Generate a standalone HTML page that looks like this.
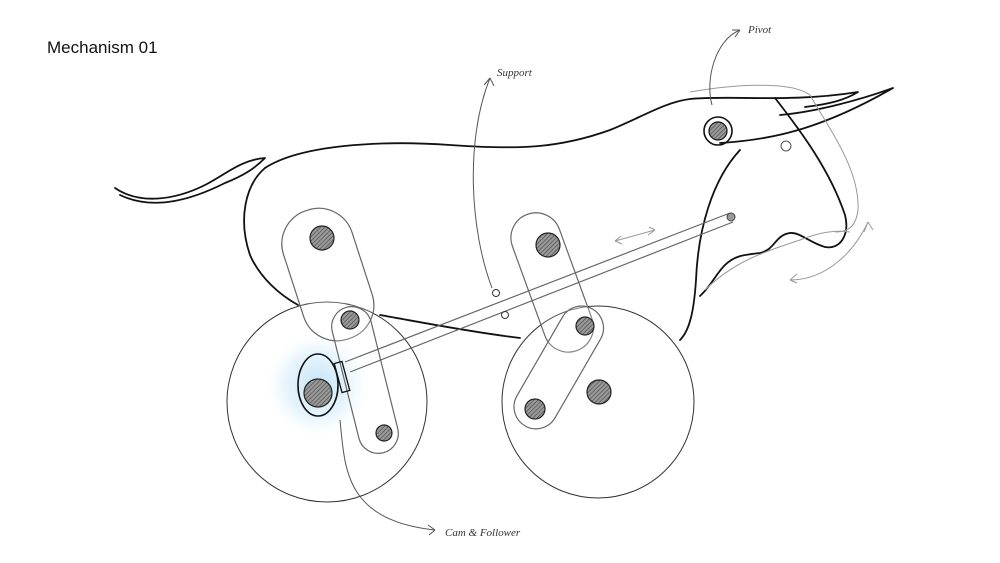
<!DOCTYPE html>
<html><head><meta charset="utf-8"><style>
html,body{margin:0;padding:0;background:#fff;}
svg{display:block;}
</style></head><body>
<svg width="1000" height="563" viewBox="0 0 1000 563" xmlns="http://www.w3.org/2000/svg">
<defs>
<radialGradient id="glow" cx="50%" cy="50%" r="50%">
<stop offset="0%" stop-color="#bfe3f7" stop-opacity="0.95"/>
<stop offset="60%" stop-color="#d8eefa" stop-opacity="0.6"/>
<stop offset="100%" stop-color="#ffffff" stop-opacity="0"/>
</radialGradient>
<pattern id="hatch" width="3" height="3" patternUnits="userSpaceOnUse" patternTransform="rotate(45)">
<rect width="3" height="3" fill="#999"/><line x1="0" y1="0" x2="0" y2="3" stroke="#444" stroke-width="1.2"/>
</pattern>
</defs>
<rect width="1000" height="563" fill="#fff"/>
<text x="47" y="53" font-family="Liberation Sans, sans-serif" font-size="17" fill="#111">Mechanism 01</text>

<circle cx="327" cy="402" r="100" fill="none" stroke="#333" stroke-width="1"/>
<circle cx="598" cy="402" r="96" fill="none" stroke="#333" stroke-width="1"/>
<ellipse cx="318" cy="385" rx="55" ry="55" fill="url(#glow)"/>

<g fill="none" stroke="#111" stroke-width="1.8" stroke-linecap="round" stroke-linejoin="round">
<path d="M115 188 C140 205 175 200 205 185 C225 175 240 160 265 158 C255 168 245 175 225 183 C195 198 155 212 120 195"/>
<path d="M265 168 C300 145 380 140 450 145 C520 150 560 148 610 130 C640 118 665 102 690 99 C730 95 790 103 858 92 C845 100 830 104 805 107"/>
<path d="M720 143 C770 140 820 130 893 88 C860 100 815 112 780 115"/>
<path d="M265 168 C245 185 238 220 250 255 C260 278 280 295 298 305"/>
<path d="M380 315 C420 322 470 332 520 338"/>
<path d="M775 98 C800 130 830 170 845 215 C850 235 840 250 825 247 C810 243 800 232 790 233 C775 235 775 250 760 253 C745 255 735 255 725 265 C715 275 712 285 700 296"/>
<path d="M740 150 C712 180 698 230 696 280 C694 310 690 330 680 340"/>
</g>
<circle cx="718" cy="131" r="14" fill="none" stroke="#111" stroke-width="1.6"/>
<circle cx="718" cy="131" r="9" fill="url(#hatch)" stroke="#111" stroke-width="1.2"/>
<circle cx="786" cy="146" r="5" fill="none" stroke="#555" stroke-width="1"/>

<g fill="none" stroke="#999" stroke-width="1">
<path d="M690 92 C730 85 790 80 810 95 C830 130 860 170 858 210 C856 225 850 232 835 232"/>
<path d="M705 290 C735 260 770 250 800 240 C820 232 835 230 850 232"/>
<path d="M790 280 C820 280 850 260 868 222"/>
<path d="M868 222 L864 232 M868 222 L873 230"/>
<path d="M790 280 L797 274 M790 280 L797 283"/>
</g>

<g fill="rgba(255,255,255,0.2)" stroke="#666" stroke-width="1.2">
<rect x="292" y="207" width="72" height="135" rx="35" transform="rotate(-18 328 275)"/>
<rect x="345" y="305" width="40" height="150" rx="20" transform="rotate(-14 365 380)"/>
<rect x="527" y="210" width="50" height="145" rx="25" transform="rotate(-20 552 282)"/>
<rect x="537" y="300" width="44" height="135" rx="22" transform="rotate(30 559 367)"/>
</g>
<g stroke="#666" stroke-width="1.2" fill="none">
<path d="M345 362 L730 213"/>
<path d="M350 372 L733 222"/>
</g>
<circle cx="731" cy="217" r="4" fill="#999" stroke="#444"/>
<ellipse cx="318" cy="385" rx="20" ry="31" fill="none" stroke="#111" stroke-width="1.6"/>
<rect x="338" y="362" width="8" height="30" fill="none" stroke="#111" stroke-width="1.3" transform="rotate(-15 342 377)"/>

<g stroke="#222" stroke-width="1.2" fill="url(#hatch)">
<circle cx="322" cy="238" r="12"/>
<circle cx="350" cy="320" r="9"/>
<circle cx="318" cy="393" r="14"/>
<circle cx="384" cy="433" r="8"/>
<circle cx="548" cy="245" r="12"/>
<circle cx="585" cy="326" r="9"/>
<circle cx="599" cy="392" r="12"/>
<circle cx="535" cy="409" r="10"/>
</g>
<circle cx="496" cy="293" r="3.5" fill="none" stroke="#333"/>
<circle cx="505" cy="315" r="3.5" fill="none" stroke="#333"/>

<g stroke="#999" stroke-width="1" fill="none">
<path d="M615 241 L655 230 M615 241 L621 236 M615 241 L622 244 M655 230 L649 227 M655 230 L648 235"/>
</g>

<g stroke="#555" stroke-width="1" fill="none">
<path d="M492 288 C470 230 465 140 490 78 M490 78 L484 85 M490 78 L494 86"/>
<path d="M712 105 C705 80 715 40 740 30 M740 30 L732 30 M740 30 L735 37"/>
<path d="M340 420 C345 470 345 520 435 530 M435 530 L428 525 M435 530 L429 535"/>
</g>
<g font-family="Liberation Serif, serif" font-style="italic" font-size="11" fill="#333">
<text x="497" y="76">Support</text>
<text x="748" y="33">Pivot</text>
<text x="445" y="536">Cam &amp; Follower</text>
</g>
</svg>
</body></html>
